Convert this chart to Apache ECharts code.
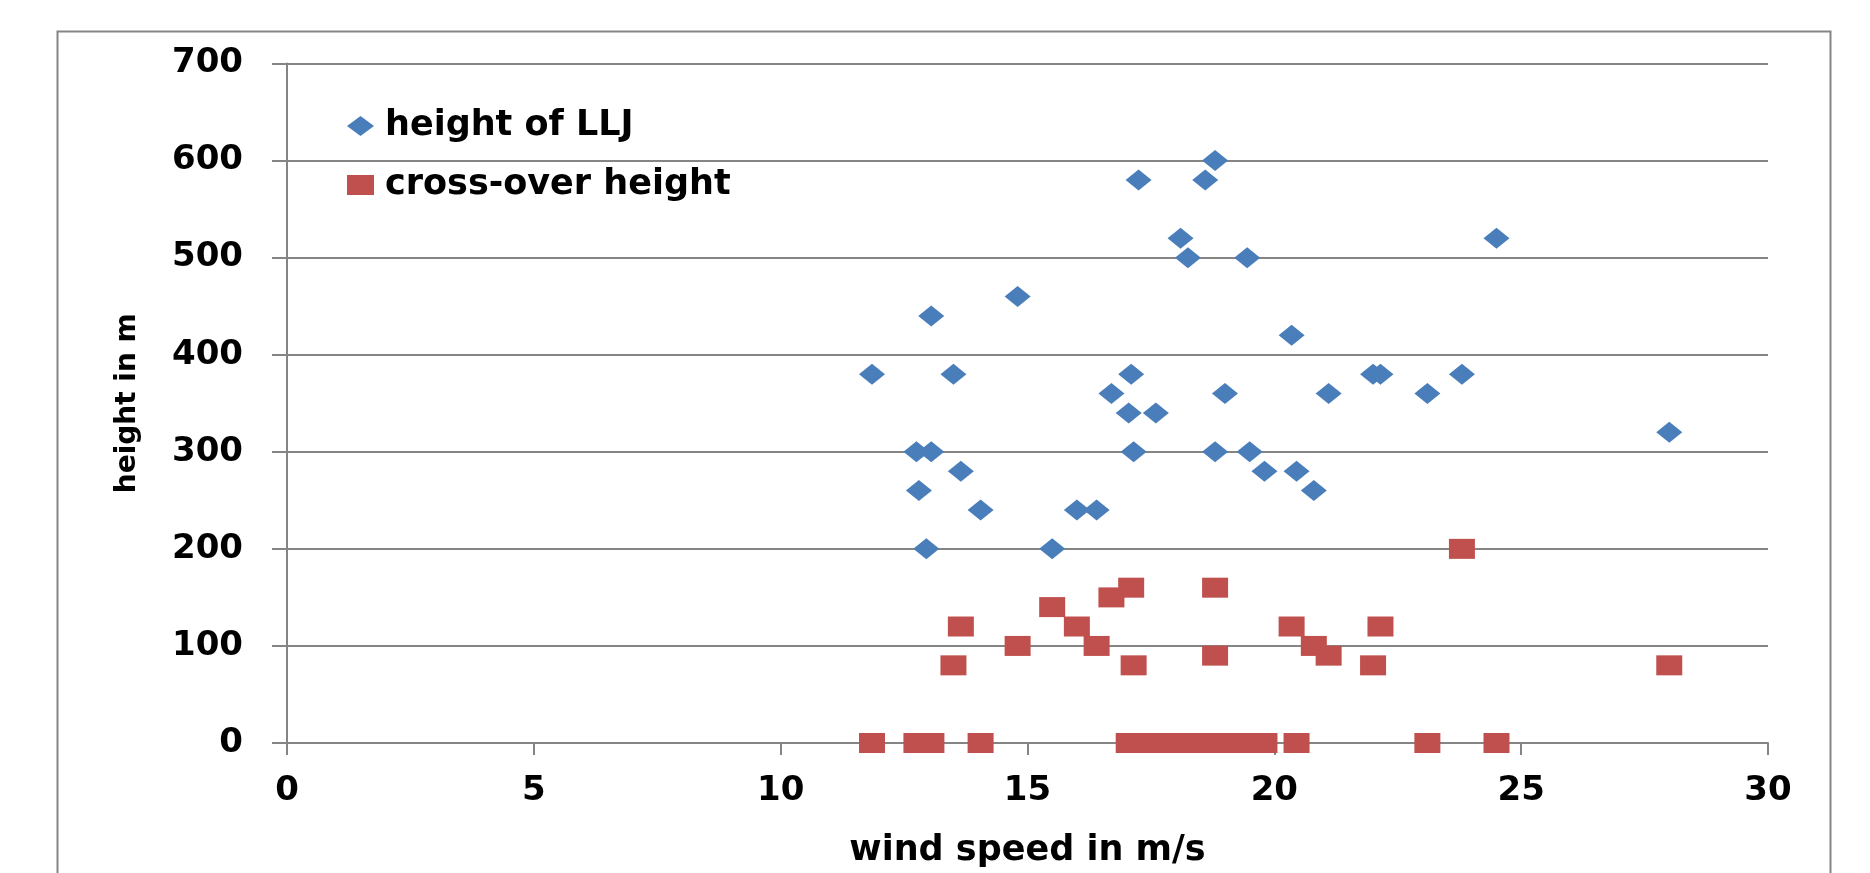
<!DOCTYPE html>
<html>
<head>
<meta charset="utf-8">
<title>Low-level jet height vs wind speed</title>
<script src="https://cdn.jsdelivr.net/npm/echarts@6/dist/echarts.min.js"></script>
<style>
  html, body { margin: 0; padding: 0; background: #ffffff; }
  #chart { width: 1870px; height: 873px; }
</style>
</head>
<body>
<div id="chart"></div>
<script>
// Wind speed (m/s) of each case, with the LLJ height and the cross-over height (m) measured for it
const windSpeed = [11.85, 12.75, 12.8, 12.95, 13.05, 13.05, 13.5, 13.65, 14.05, 14.8,
                   15.5, 16.0, 16.4, 16.7, 17.05, 17.1, 17.15, 17.25, 17.6, 18.1,
                   18.25, 18.6, 18.8, 18.8, 19.0, 19.45, 19.5, 19.8, 20.35, 20.45,
                   20.8, 21.1, 22.0, 22.15, 23.1, 23.8, 24.5, 28.0];
const lljHeight = [380, 300, 260, 200, 440, 300, 380, 280, 240, 460,
                   200, 240, 240, 360, 340, 380, 300, 580, 340, 520,
                   500, 580, 600, 300, 360, 500, 300, 280, 420, 280,
                   260, 360, 380, 380, 360, 380, 520, 320];
const crossOverHeight = [0, 0, 0, 0, 0, 0, 80, 120, 0, 100,
                         140, 120, 100, 150, 0, 160, 80, 0, 0, 0,
                         0, 0, 160, 90, 0, 0, 0, 0, 120, 0,
                         100, 90, 80, 120, 0, 200, 0, 80];

// Axis tick values
const xTicks = [0, 5, 10, 15, 20, 25, 30];
const yTicks = [0, 100, 200, 300, 400, 500, 600, 700];

const seriesNames = ['height of LLJ', 'cross-over height'];
const axisNames = { x: 'wind speed in m/s', y: 'height in m' };

const FONT = 'DejaVu Sans';
const GRID_GREY = '#858585';

const chart = echarts.init(document.getElementById('chart'), null, { renderer: 'canvas' });

const lljPoints = windSpeed.map((w, i) => [w, lljHeight[i]]);
const crossPoints = windSpeed.map((w, i) => [w, crossOverHeight[i]]);

chart.setOption({
  backgroundColor: '#ffffff',
  animation: false,
  graphic: [{
    type: 'rect',
    left: 55, top: 29,
    shape: { width: 1773, height: 900 },
    style: { fill: 'none', stroke: GRID_GREY, lineWidth: 2 },
    silent: true
  }],
  grid: { left: 287, right: 102, top: 63.5, bottom: 128.7, containLabel: false },
  legend: {
    orient: 'vertical',
    left: 342, top: 102,
    itemWidth: 27, itemHeight: 20,
    itemGap: 21,
    symbolKeepAspect: false,
    textStyle: {
      fontFamily: FONT, fontWeight: 'bold', fontSize: 35, color: '#000',
      lineHeight: 38, padding: [0, 0, 0, 6]
    },
    data: [
      { name: seriesNames[0], icon: 'diamond' },
      { name: seriesNames[1], icon: 'rect' }
    ]
  },
  xAxis: {
    type: 'value',
    min: xTicks[0], max: xTicks[xTicks.length - 1], interval: xTicks[1] - xTicks[0],
    name: axisNames.x, nameLocation: 'middle', nameGap: 90,
    nameTextStyle: { fontFamily: FONT, fontWeight: 'bold', fontSize: 35, color: '#000' },
    axisLine: { show: true, onZero: false, lineStyle: { color: GRID_GREY, width: 2 } },
    axisTick: { show: true, length: 12, inside: false, lineStyle: { color: GRID_GREY, width: 2 } },
    axisLabel: { fontFamily: FONT, fontWeight: 'bold', fontSize: 34, color: '#000', margin: 31 },
    splitLine: { show: false }
  },
  yAxis: {
    type: 'value',
    min: yTicks[0], max: yTicks[yTicks.length - 1], interval: yTicks[1] - yTicks[0],
    name: axisNames.y, nameLocation: 'middle', nameGap: 145, nameRotate: 90,
    nameTextStyle: { fontFamily: FONT, fontWeight: 'bold', fontSize: 28, color: '#000' },
    axisLine: { show: true, lineStyle: { color: GRID_GREY, width: 2 } },
    axisTick: { show: true, length: 15, inside: false, lineStyle: { color: GRID_GREY, width: 2 } },
    axisLabel: { fontFamily: FONT, fontWeight: 'bold', fontSize: 34, color: '#000', margin: 44 },
    splitLine: { show: true, lineStyle: { color: GRID_GREY, width: 2 } }
  },
  series: [
    {
      name: seriesNames[0],
      type: 'scatter',
      symbol: 'diamond',
      symbolSize: [26, 21],
      clip: false,
      itemStyle: { color: '#4A7EBB', opacity: 1 },
      data: lljPoints
    },
    {
      name: seriesNames[1],
      type: 'scatter',
      symbol: 'rect',
      symbolSize: [26, 20],
      clip: false,
      itemStyle: { color: '#C0504D', opacity: 1 },
      data: crossPoints
    }
  ]
});
</script>
</body>
</html>
